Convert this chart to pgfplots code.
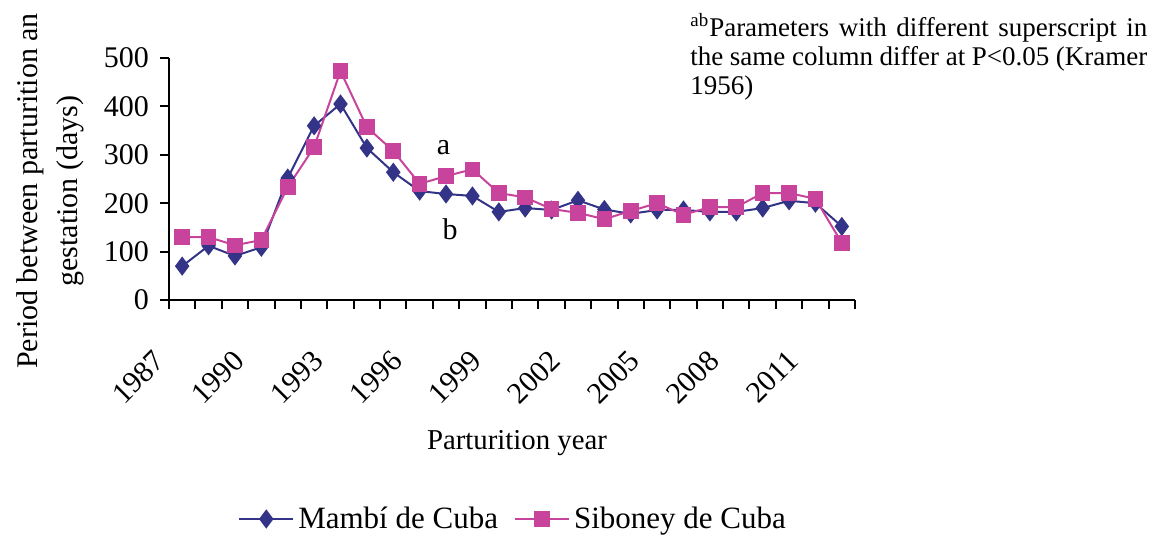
\documentclass[border=0pt]{standalone}
\usepackage{fontspec}
\setmainfont{Liberation Serif}
\usepackage{pgfplots}
\pgfplotsset{compat=1.18}
\definecolor{mambi}{HTML}{333388}
\definecolor{siboney}{HTML}{C8449C}
\begin{document}
\begin{tikzpicture}
\useasboundingbox (0,0) rectangle (580pt,267.5pt);
\begin{axis}[
  at={(84.5pt,117.5pt)}, anchor=south west, scale only axis,
  width=343pt, height=121pt,
  xmin=1986.5, xmax=2012.5, ymin=0, ymax=500,
  axis lines*=left,
  axis line style={line width=1pt,-},
  every tick/.style={line width=1pt,black},
  tick align=outside, major tick length=4.5pt, minor tick length=4.5pt,
  ytick={0,100,...,500},
  xtick={1987,1990,1993,1996,1999,2002,2005,2008,2011},
  minor xtick={1986.5,1987.5,...,2012.5},
  major x tick style={draw=none},
  xticklabel style={rotate=45, anchor=north east, xshift=-21pt, yshift=0pt},
  /pgf/number format/.cd, 1000 sep={}, assume math mode=true,
  /pgfplots/.cd,
  tick label style={font=\fontsize{15}{15}\selectfont},
  yticklabel style={xshift=-2pt},
  legend style={at={(0.503,-0.905)}, anchor=center, draw=none,
     font=\fontsize{15.5}{15.5}\selectfont, legend columns=2,
     /tikz/every even column/.append style={column sep=6pt}},
  legend image code/.code={\draw[mark repeat=2,mark phase=2,#1] plot coordinates {(0pt,0pt) (13.5pt,0pt) (27pt,0pt)};},
  clip=false,
]
\addplot[color=mambi, line width=1pt, mark=diamond*, mark size=4pt, mark options={solid}] coordinates {
(1987,70) (1988,112) (1989,91) (1990,109) (1991,252) (1992,360) (1993,405)
(1994,314) (1995,264) (1996,225) (1997,219) (1998,215) (1999,182) (2000,190)
(2001,186) (2002,206) (2003,187) (2004,178) (2005,186) (2006,186) (2007,182)
(2008,182) (2009,190) (2010,205) (2011,200) (2012,152)
};
\addlegendentry{Mambí de Cuba}
\addplot[color=siboney, line width=1pt, mark=square*, mark size=3.4pt, mark options={solid}] coordinates {
(1987,130) (1988,130) (1989,113) (1990,124) (1991,233) (1992,316) (1993,473)
(1994,357) (1995,308) (1996,240) (1997,256) (1998,270) (1999,221) (2000,212)
(2001,188) (2002,180) (2003,167) (2004,184) (2005,200) (2006,176) (2007,192)
(2008,192) (2009,221) (2010,221) (2011,209) (2012,118)
};
\addlegendentry{Siboney de Cuba}
\node[font=\fontsize{15}{15}\selectfont] at (axis cs:1996.9,314) {a};
\node[font=\fontsize{15}{15}\selectfont] at (axis cs:1997.15,147) {b};
\end{axis}
\node[rotate=90, align=center, font=\fontsize{15}{20}\selectfont] at (25pt,172pt) {Period between parturition an\\gestation (days)};
\node[font=\fontsize{14.4}{14.4}\selectfont] at (258.5pt,46pt) {Parturition year};
\node[anchor=north west, text width=228.5pt, align=justify, inner sep=0pt, font=\fontsize{13.5}{14.5}\selectfont] at (345pt,261pt) {\textsuperscript{ab}Parameters with different superscript in the same column differ at P<0.05 (Kramer 1956)};
\end{tikzpicture}
\end{document}
